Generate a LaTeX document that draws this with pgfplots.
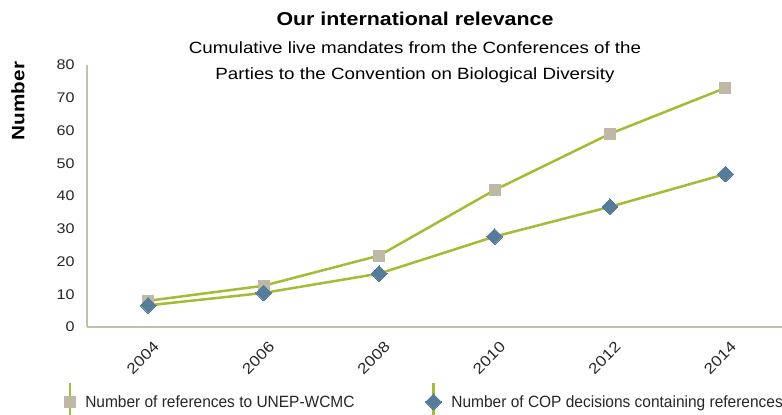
\documentclass[border=0pt]{standalone}
\usepackage{fontspec}
\setmainfont{Liberation Sans}[FakeStretch=1.15]
\newfontfamily\legfont{Liberation Sans}[FakeStretch=0.95]
\usepackage{pgfplots}
\pgfplotsset{compat=1.18}
\definecolor{lineg}{RGB}{166,186,52}
\definecolor{sqc}{RGB}{190,184,164}
\definecolor{dic}{RGB}{86,124,156}
\definecolor{axc}{RGB}{196,191,174}
\begin{document}
\begin{tikzpicture}[x=1pt,y=1pt]
\begin{axis}[
  at={(0,0)}, anchor=south west,
  scale only axis, width=695pt, height=262pt,
  xmin=-0.53, xmax=5.49, ymin=0, ymax=80,
  axis x line*=bottom, axis y line*=left,
  axis line style={draw=axc, line width=1.8pt},
  xtick={0,1,2,3,4,5},
  xticklabels={2004,2006,2008,2010,2012,2014},
  ytick={0,10,...,80},
  major tick length=0pt,
  tick label style={font=\fontsize{14}{17}\selectfont, text=black!85},
  xticklabel style={rotate=45, anchor=east, yshift=-18pt, xshift=-3pt, font=\fontsize{15}{17}\selectfont},
  /pgf/number format/assume math mode=true,
  yticklabel style={xshift=-9pt},
  clip=false,
  legend columns=2,
  legend style={at={(-0.033,-0.28)}, anchor=west, draw=none, fill=none,
    inner sep=0pt, font=\legfont\fontsize{16.3}{19}\selectfont, text=black!85,
    /tikz/every odd column/.append style={column sep=8pt},
    /tikz/every even column/.append style={column sep=69pt}},
  legend image code/.code={
    \draw[#1, mark=none] (0pt,-16pt) -- (0pt,19pt);
    \draw[#1, only marks] plot coordinates {(0pt,0pt)};
  },
]
\addplot[color=lineg, line width=2.5pt, mark=square*, mark size=5.5pt,
  mark options={fill=sqc, draw=sqc, line width=0pt}]
  coordinates {(0,8) (1,12.6) (2,21.8) (3,41.8) (4,59) (5,73)};
\addlegendentry{Number of references to UNEP-WCMC}
\addplot[color=lineg, line width=2.5pt, mark=square*, mark size=5.6pt,
  mark options={fill=dic, draw=dic, line width=0pt, rotate=45}]
  coordinates {(0,6.6) (1,10.4) (2,16.3) (3,27.6) (4,36.7) (5,46.7)};
\addlegendentry{Number of COP decisions containing references}
\end{axis}
\node[anchor=base, font=\fontsize{18.6}{21}\selectfont\bfseries] at (328,301) {Our international relevance};
\node[anchor=base, font=\fontsize{16.3}{19}\selectfont] at (328,273.7) {Cumulative live mandates from the Conferences of the};
\node[anchor=base, font=\fontsize{16.3}{19}\selectfont] at (328,247) {Parties to the Convention on Biological Diversity};
\node[rotate=90, font=\fontsize{18}{21}\selectfont\bfseries] at (-69,226) {Number};
\pgfresetboundingbox
\path (-87,-88) rectangle (695,327);
\end{tikzpicture}
\end{document}
